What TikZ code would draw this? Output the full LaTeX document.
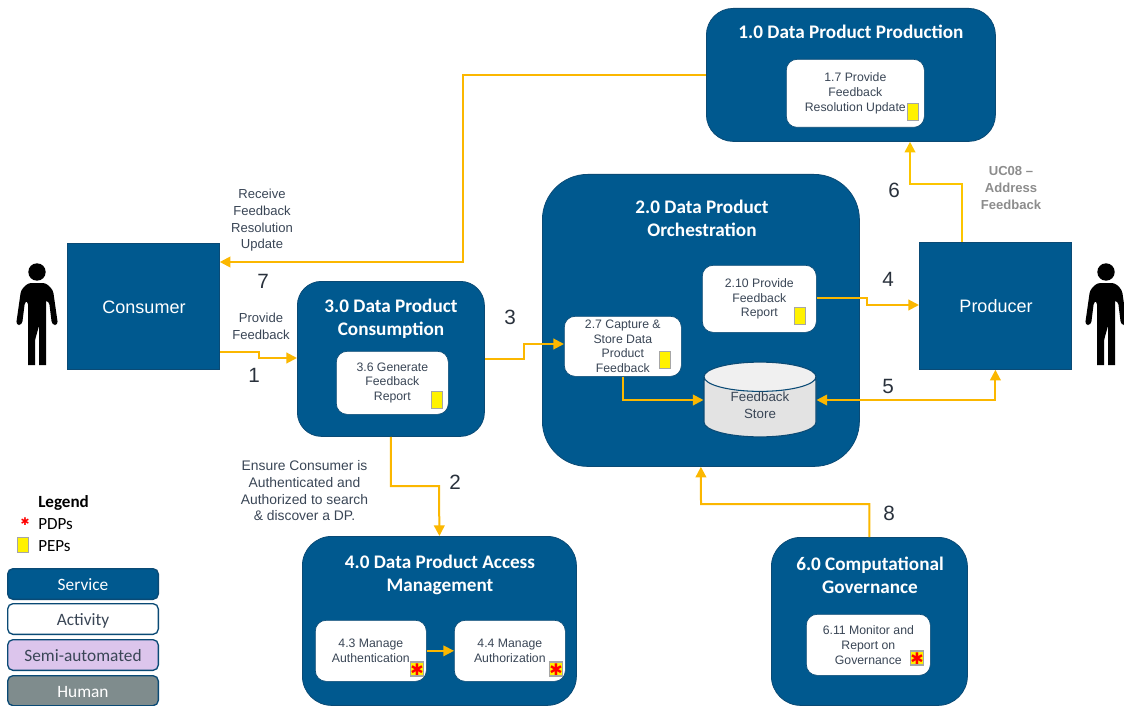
\documentclass[tikz,border=0pt]{standalone}
\usepackage{fontspec}
\setmainfont{Liberation Sans}
\newfontfamily\calibrifont{Carlito}
\newfontfamily\markfont{DejaVu Sans}
\usetikzlibrary{arrows.meta,shapes.geometric}
\definecolor{servicefill}{HTML}{00598F}
\definecolor{serviceline}{HTML}{0A4A75}
\definecolor{flowcolor}{HTML}{FBB700}
\definecolor{activitytext}{HTML}{3A4656}
\definecolor{humanfill}{HTML}{7F8C8D}
\definecolor{semifill}{HTML}{DCC5EC}
\tikzset{
	service/.style={draw=serviceline,fill=servicefill,line width=0.6pt,anchor=north west,inner sep=0pt},
	title/.style={text=white,align=center,font=\calibrifont\fontsize{14.4}{17.4}\selectfont\bfseries},
	actorlabel/.style={text=white,font=\fontsize{13.5}{16}\selectfont},
	activity/.style={draw=serviceline,fill=white,line width=0.5pt,rounded corners=8pt,anchor=north west,inner sep=0pt,
		text=activitytext,align=center,font=\fontsize{9.2}{11.1}\selectfont},
	pep/.style={draw=black!35,fill=yellow,line width=1pt,minimum width=8.5pt,minimum height=12.5pt,inner sep=0pt},
	pdp/.style={pep,minimum width=9pt,minimum height=10.5pt,text=red,font=\markfont\fontsize{12}{12}\selectfont},
	flow/.style={->,draw=flowcolor,line width=1.5pt},
	caption/.style={text=activitytext,align=center,font=\fontsize{9.8}{12.5}\selectfont},
	number/.style={text=activitytext!70!black,font=\fontsize{15.5}{15.5}\selectfont},
	legendbox/.style={draw=serviceline,line width=1pt,rounded corners=4pt,minimum width=113pt,minimum height=23pt,
		inner sep=0pt,anchor=north west,text height=10.8pt,text depth=1pt,font=\calibrifont\fontsize{13}{14}\selectfont},
	legendtext/.style={anchor=west,inner sep=0pt,font=\calibrifont\fontsize{12.8}{14}\selectfont},
}
\newcommand{\PersonShape}[1]{
	\fill (#1,272) circle[radius=8.7];
	\fill[rounded corners=2.5pt] (#1-9,365) -- (#1-9,301) -- (#1-12,301) -- (#1-15,325) -- (#1-21,325) -- (#1-16,290)
		-- (#1-9,283) -- (#1+9,283) -- (#1+16,290) -- (#1+21,325) -- (#1+15,325) -- (#1+12,301) -- (#1+9,301);
	\fill (#1-9,365) -- (#1-9,300) -- (#1+9,300) -- (#1+9,365) -- (#1+2,365) -- (#1+2,323) -- (#1-2,323) -- (#1-2,365) -- cycle;
}
\begin{document}
\begin{tikzpicture}[>={Triangle[length=8pt,width=8pt]},x=0.75pt,y=-0.75pt]
	\useasboundingbox (1,0) rectangle (1125,706);

	% services
	\node[service,rounded corners=20pt,minimum width=216.75pt,minimum height=99.75pt] (production) at (707,8) {};
	\node[service,rounded corners=34pt,minimum width=237.75pt,minimum height=219pt] (orchestration) at (543,174) {};
	\node[service,rounded corners=18pt,minimum width=140.25pt,minimum height=116.25pt] (consumption) at (298,281) {};
	\node[service,rounded corners=22pt,minimum width=205.5pt,minimum height=126.75pt] (access) at (303,536) {};
	\node[service,rounded corners=22pt,minimum width=147pt,minimum height=126pt] (governance) at (772,537) {};
	\node[service,minimum width=114pt,minimum height=94.5pt] (consumer) at (68,243) {};
	\node[service,minimum width=114pt,minimum height=95.25pt] (producer) at (920,242) {};

	\node[title] (productiontitle) at (852,32) {1.0 Data Product Production};
	\node[title] (orchestrationtitle) at (703,218.5) {2.0 Data Product\\Orchestration};
	\node[title] (consumptiontitle) at (392,318.5) {3.0 Data Product\\Consumption};
	\node[title] (accesstitle) at (441,574.5) {4.0 Data Product Access\\Management};
	\node[title] (governancetitle) at (871,575) {6.0 Computational\\Governance};
	\node[actorlabel] (consumerlabel) at (145,307) {Consumer};
	\node[actorlabel] (producerlabel) at (997,306) {Producer};

	% activities
	\node[activity,minimum width=103.5pt,minimum height=51pt] (act17) at (787,59) {1.7 Provide\\Feedback\\Resolution Update};
	\node[activity,minimum width=85.5pt,minimum height=50.25pt] (act210) at (703,265) {2.10 Provide\\Feedback\\Report};
	\node[activity,minimum width=87.75pt,minimum height=45pt] (act27) at (565,316) {2.7 Capture \&\\Store Data\\Product\\Feedback};
	\node[activity,minimum width=84pt,minimum height=47.25pt] (act36) at (337,351) {3.6 Generate\\Feedback\\Report};
	\node[activity,minimum width=83.25pt,minimum height=45.75pt] (act43) at (316,620) {4.3 Manage\\Authentication};
	\node[activity,minimum width=83.25pt,minimum height=45.75pt] (act44) at (455,620) {4.4 Manage\\Authorization};
	\node[activity,minimum width=93pt,minimum height=45.75pt] (act611) at (807,614) {6.11 Monitor and\\Report on\\Governance};

	\node[cylinder,shape border rotate=90,aspect=0.5,draw=serviceline,line width=0.8pt,anchor=shape center,
		cylinder uses custom fill,cylinder end fill=black!6,cylinder body fill=black!11,
		minimum width=84pt,minimum height=56pt,inner sep=0pt,text=activitytext,align=center,
		font=\fontsize{10}{12.5}\selectfont] (store) at (761,399.5) {Feedback\\Store\rule[-3pt]{0pt}{0pt}};

	\node[pep] (pep17) at (914,112) {};
	\node[pep] (pep210) at (801,316) {};
	\node[pep] (pep27) at (666,360) {};
	\node[pep] (pep36) at (438,400) {};
	\foreach \pdpname/\pdpx/\pdpy in {pdp43/418/669,pdp44/557/669,pdp611/918/658}
		\node[pdp] (\pdpname) at (\pdpx,\pdpy) {\smash{\raisebox{-4.5pt}{✱}}};

	% flows
	\draw[flow] (production.west |- 0,75) -| (464,262) -- (consumer.east |- 0,262);
	\draw[flow] (consumer.east |- 0,352) -| (260,358) -- (consumption.west |- 0,358);
	\draw[flow] (consumption.east |- 0,359) -| (525,344) -- (act27.west |- 0,344);
	\draw[flow] (consumption.south) |- (440,486) -- (access.north);
	\draw[flow] (act27.south) |- (store.west |- 0,400);
	\draw[flow] (act210.east |- 0,298) -| (868,305) -- (producer.west |- 0,305);
	\draw[flow,<->] (store.east |- 0,400) -| (producer.south);
	\draw[flow,draw=flowcolor!80!yellow] (producer.north -| 963,0) |- (911,184) -- (production.south -| 911,0);
	\draw[flow] (governance.north) |- (702,504) -- (orchestration.south);
	\draw[flow,line width=1.1pt] (act43.east) -- (act44.west);

	% labels
	\node[caption] (receivelabel) at (263,220.5) {Receive\\Feedback\\Resolution\\Update};
	\node[caption] (providelabel) at (262,326) {Provide\\Feedback};
	\node[caption,font=\fontsize{10.4}{12.5}\selectfont] (ensurelabel) at (305.5,491) {Ensure Consumer is\\Authenticated and\\Authorized to search\\\& discover a DP.};
	\node[text=black!45,align=center,font=\fontsize{9.8}{12.8}\selectfont\bfseries] (uclabel) at (1012,188) {UC08 --\\Address\\Feedback};
	\foreach \numname/\numx/\numy/\numtext in {n1/255/375/1,n2/456/482/2,n3/511/317/3,n4/889/279/4,n5/889/386/5,n6/895/190/6,n7/264/281/7,n8/890/513/8}
		\node[number] (\numname) at (\numx,\numy) {\numtext};

	\PersonShape{38}
	\PersonShape{1107}

	% legend
	\node[legendtext,font=\calibrifont\fontsize{12.8}{14}\selectfont\bfseries] (legendtitle) at (39,502.5) {Legend};
	\node[legendtext] (legendpdp) at (39,524.5) {PDPs};
	\node[legendtext] (legendpep) at (39,546.5) {PEPs};
	\node[text=red,inner sep=0pt,font=\markfont\fontsize{8}{8}\selectfont] (legendstar) at (26,522) {✱};
	\node[pep,minimum width=8pt,minimum height=11pt] (legendyellow) at (24,545) {};
	\node[legendbox,fill=servicefill,text=white] (legendservice) at (8,568) {Service};
	\node[legendbox,fill=white,text=activitytext] (legendactivity) at (8,603) {Activity};
	\node[legendbox,fill=semifill,text=activitytext] (legendsemi) at (8,639) {Semi-automated};
	\node[legendbox,fill=humanfill,text=white,minimum height=22.5pt] (legendhuman) at (8,675) {Human};
\end{tikzpicture}
\end{document}
